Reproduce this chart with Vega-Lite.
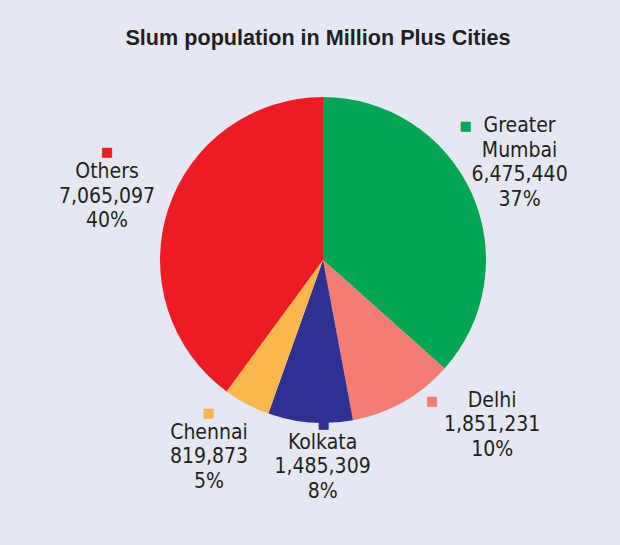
{
  "$schema": "https://vega.github.io/schema/vega-lite/v6.json",
  "width": 594,
  "height": 400,
  "autosize": {"type": "none"},
  "padding": {"left": 26, "top": 60, "right": 0, "bottom": 85},
  "background": "#e5e8f3",
  "config": {"view": {"stroke": null}},
  "title": {
    "text": "Slum population in Million Plus Cities",
    "font": "Liberation Sans",
    "fontSize": 21.6,
    "fontWeight": "bold",
    "color": "#231f20",
    "anchor": "middle",
    "offset": 10,
    "dx": -5
  },
  "data": {
    "values": [
      {"city": "Greater Mumbai", "population": 6475440, "share": 37},
      {"city": "Delhi", "population": 1851231, "share": 10},
      {"city": "Kolkata", "population": 1485309, "share": 8},
      {"city": "Chennai", "population": 819873, "share": 5},
      {"city": "Others", "population": 7065097, "share": 40}
    ]
  },
  "transform": [
    {"window": [{"op": "row_number", "as": "idx"}]},
    {"calculate": "replace(datum.city, ' ', '\\n') + '\\n' + format(datum.population, ',') + '\\n' + datum.share + '%'", "as": "label"}
  ],
  "encoding": {
    "theta": {"field": "population", "type": "quantitative", "stack": true},
    "order": {"field": "idx", "type": "quantitative"},
    "color": {
      "field": "city",
      "type": "nominal",
      "scale": {
        "domain": ["Greater Mumbai", "Delhi", "Kolkata", "Chennai", "Others"],
        "range": ["#00a651", "#f47c72", "#2e3192", "#fbb64c", "#ed1c24"]
      },
      "legend": null
    }
  },
  "layer": [
    {"mark": {"type": "arc", "radius": 163}},
    {
      "mark": {
        "type": "text",
        "radius": 222,
        "lineBreak": "\n",
        "font": "DejaVu Sans Condensed",
        "fontSize": 21,
        "lineHeight": 24.5,
        "align": "center",
        "baseline": "middle",
        "dx": {"expr": "datum.city === 'Delhi' ? 60 : datum.city === 'Kolkata' ? 17 : datum.city === 'Chennai' ? -10 : datum.city === 'Others' ? -5 : -6"},
        "dy": {"expr": "datum.city === 'Delhi' ? -52.5 : datum.city === 'Kolkata' ? -38.5 : datum.city === 'Chennai' ? -23.5 : datum.city === 'Others' ? -18.5 : -43"}
      },
      "encoding": {
        "text": {"field": "label", "type": "nominal"},
        "color": {"value": "#231f20"}
      }
    },
    {
      "mark": {
        "type": "text",
        "radius": 222,
        "text": "■",
        "font": "DejaVu Sans",
        "fontSize": 13,
        "align": "center",
        "baseline": "middle",
        "dx": {"expr": "datum.city === 'Delhi' ? 0 : datum.city === 'Kolkata' ? 18 : datum.city === 'Chennai' ? -10 : datum.city === 'Others' ? -5 : -60"},
        "dy": {"expr": "datum.city === 'Delhi' ? -52 : datum.city === 'Kolkata' ? -57 : datum.city === 'Chennai' ? -43.5 : datum.city === 'Others' ? -39 : -43"}
      }
    }
  ]
}
